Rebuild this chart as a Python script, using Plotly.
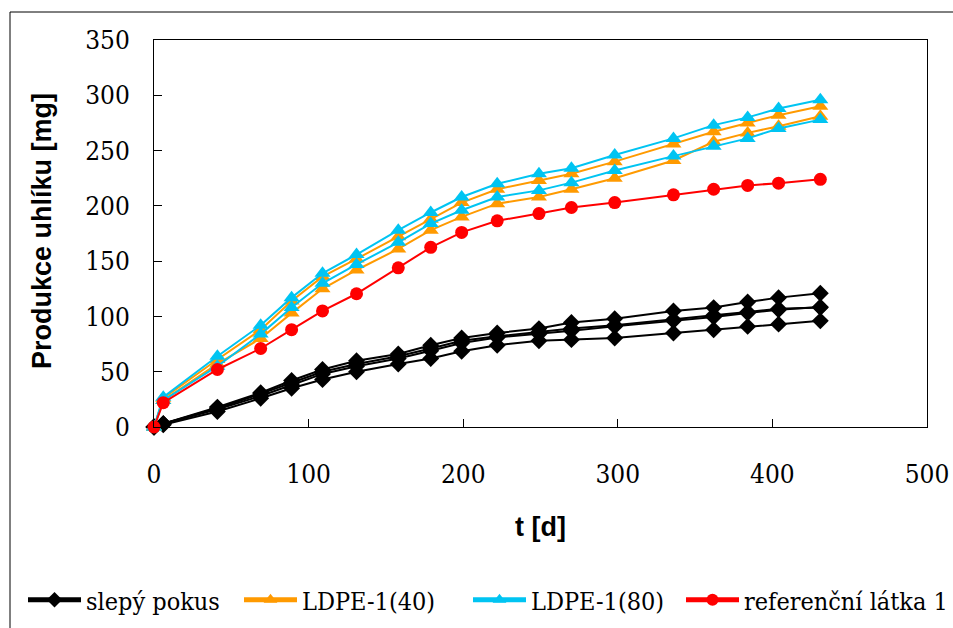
import plotly.graph_objects as go

# Sampling days
days = [0, 6, 41, 69, 89, 109, 131, 158, 179, 199, 222, 249, 270, 298, 336, 362, 384, 404, 431]

# Blank runs (slepý pokus), cumulative carbon production [mg]
blank_1 = [0, 3, 18, 31, 42, 52, 60, 66, 74, 80.5, 85, 89, 94.5, 98, 105, 108, 113, 117, 121]
blank_2 = [0, 3, 16, 28, 38, 48, 55, 62, 69, 76, 81, 84, 87, 91, 96, 99.5, 103, 106, 108.5]
blank_3 = [0, 3, 17, 30, 40, 50, 57, 64, 71, 78, 82, 86, 89, 92, 97, 101, 104, 107, 108]
blank_4 = [0, 2, 14, 26, 35, 43, 50, 57, 62, 68.5, 74, 78, 79, 80.5, 85, 88, 91, 93, 96]

# LDPE-1(40)
ldpe40_1 = [0, 26, 61, 88, 114, 136, 152, 172, 188, 203, 215, 223, 229, 240, 256, 267, 275, 282, 290]
ldpe40_2 = [0, 24, 57, 80, 103, 125, 142, 161, 178, 190, 202, 208, 215, 225, 241, 258, 266, 272, 281]

# LDPE-1(80)
ldpe80_1 = [0, 27, 64, 92, 117, 139, 156, 178, 194, 208, 220, 229, 234, 246, 261, 273, 280, 288, 296]
ldpe80_2 = [0, 24, 55, 84, 108, 130, 147, 167, 184, 196, 208, 214, 221, 232, 245, 254, 261, 270, 278]

# Reference substance 1
reference_1 = [0, 22, 52, 71, 88, 105, 120.5, 144, 162.5, 176, 186.5, 193, 198.5, 203, 210, 215, 218.5, 220.5, 224]

BLACK = "#000000"
ORANGE = "#FF9A00"
CYAN = "#00C4F2"
RED = "#FF0000"

SERIF = "DejaVu Serif Condensed"
SANS = "Liberation Sans"

fig = go.Figure()


def add_series(y, name, color, symbol, size, show, legend_id):
    fig.add_trace(go.Scatter(
        x=days, y=y, name=name, legendgroup=name, showlegend=show,
        legend=legend_id,
        mode="lines+markers",
        line=dict(color=color, width=2),
        marker=dict(color=color, symbol=symbol, size=size),
        cliponaxis=False,
    ))


for i, s in enumerate([blank_1, blank_2, blank_3, blank_4]):
    add_series(s, "slepý pokus", BLACK, "diamond", 13, i == 0, "legend")
for i, s in enumerate([ldpe40_1, ldpe40_2]):
    add_series(s, "LDPE-1(40)", ORANGE, "triangle-up", 14, i == 0, "legend2")
for i, s in enumerate([ldpe80_1, ldpe80_2]):
    add_series(s, "LDPE-1(80)", CYAN, "triangle-up", 14, i == 0, "legend3")
add_series(reference_1, "referenční látka 1", RED, "circle", 13, True, "legend4")

axis_common = dict(
    showline=True, linecolor="black", linewidth=1, mirror=True,
    ticks="inside", ticklen=8, tickcolor="black", tickwidth=1,
    showgrid=False, zeroline=False,
    tickfont=dict(family=SERIF, size=26, color="black"),
)

fig.update_xaxes(range=[0, 500], dtick=100, ticklabelstandoff=24, **axis_common)
fig.update_yaxes(range=[0, 350], dtick=50, ticklabelstandoff=18, **axis_common)

L, R, T, B = 154, 26, 40, 201
W, H = 953, 628
pw, ph = W - L - R, H - T - B


def px_x(px):
    return (px - L) / pw


def px_y(py):
    return (H - B - py) / ph


fig.add_annotation(
    text="Produkce uhlíku [mg]", textangle=-90, showarrow=False,
    xref="paper", yref="paper", x=px_x(42), y=px_y(231),
    xanchor="center", yanchor="middle",
    font=dict(family=SANS, size=27, color="black", weight="bold"),
)
fig.add_annotation(
    text="t [d]", showarrow=False,
    xref="paper", yref="paper", x=px_x(540), y=px_y(527),
    xanchor="center", yanchor="middle",
    font=dict(family=SANS, size=27, color="black", weight="bold"),
)

# Chart-area frame
fig.add_shape(
    type="rect", xref="paper", yref="paper",
    x0=px_x(10), x1=px_x(990), y0=px_y(700), y1=px_y(12),
    line=dict(color="black", width=1), fillcolor="rgba(0,0,0,0)", layer="below",
)


def legend_box(left_px):
    return dict(
        orientation="h", xref="container", yref="container",
        x=left_px / W, y=1 - 600 / H, xanchor="left", yanchor="middle",
        font=dict(family=SERIF, size=25, color="black"),
        itemsizing="constant", itemwidth=53,
        bgcolor="rgba(0,0,0,0)",
    )


fig.update_layout(
    width=W, height=H,
    margin=dict(l=L, r=R, t=T, b=B, autoexpand=False),
    paper_bgcolor="white", plot_bgcolor="white",
    font=dict(family=SERIF, size=25, color="black"),
    legend=legend_box(23),
    legend2=legend_box(239),
    legend3=legend_box(468),
    legend4=legend_box(681),
)

fig.write_html("out.html")
